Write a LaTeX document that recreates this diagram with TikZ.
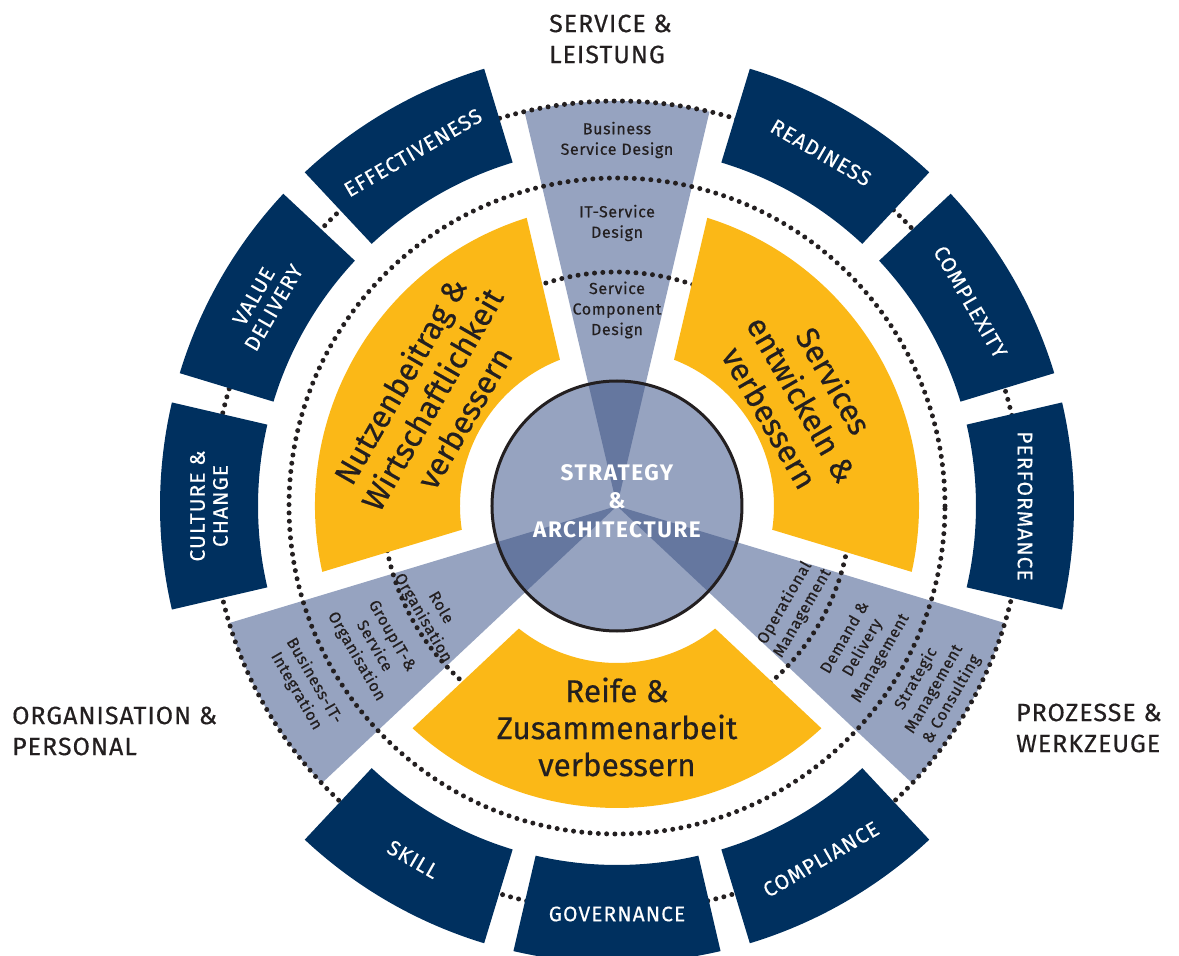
\documentclass[tikz,border=0pt]{standalone}
\usepackage{fontspec}
\setmainfont{Fira Sans}
\newfontfamily\blockfont[LetterSpace=5,FakeBold=0.3]{Fira Sans}
\newfontfamily\medfont[FakeBold=0.5]{Fira Sans}
\newfontfamily\medspaced[FakeBold=0.5,LetterSpace=4]{Fira Sans}
\newfontfamily\corefont[LetterSpace=7]{Fira Sans Bold}
\definecolor{navy}{HTML}{00305F}
\definecolor{gold}{HTML}{FBB817}
\definecolor{wedgegray}{HTML}{96A3C0}
\definecolor{wedgedark}{HTML}{65779F}
\definecolor{ink}{HTML}{231F20}
\begin{document}
\begin{tikzpicture}[
  blocktext/.style={text=white, font=\blockfont\fontsize{21}{23}\selectfont, align=center, inner sep=0pt},
  yellowtext/.style={text=ink, font=\medfont\fontsize{31.5}{37}\selectfont, align=center, inner sep=0pt},
  wedgetext/.style={text=ink, font=\medspaced\fontsize{16}{20.5}\selectfont, align=center, inner sep=0pt},
  outertext/.style={text=ink, font=\medspaced\fontsize{25}{31}\selectfont, align=left, inner sep=0pt, anchor=west},
  centertext/.style={text=white, font=\corefont\fontsize{22.5}{28.5}\selectfont, align=center, inner sep=0pt},
  dotline/.style={draw=ink, line width=5pt, dash pattern=on 0pt off 8.3pt, line cap=round},
]
\useasboundingbox (-617pt,-450pt) rectangle (562pt,506pt);

% gray wedges
\foreach \w in {90,210,330}{
  \fill[wedgegray] (0,0) -- ({\w-13.2}:405pt) arc[start angle={\w-13.2}, end angle={\w+13.2}, radius=405pt] -- cycle;
}

% dotted circles
\draw[dotline] (0,0) circle[radius=405pt];
\draw[dotline] (0,0) circle[radius=328pt];
\draw[dotline] (0,0) circle[radius=234pt];

% yellow sectors
\foreach \c in {30,150,270}{
  \fill[gold] ({\c-42.6}:302pt) arc[start angle={\c-42.6}, end angle={\c+42.6}, radius=302pt]
    -- ({\c+38.7}:157pt) arc[start angle={\c+38.7}, end angle={\c-38.7}, radius=157pt] -- cycle;
}

% navy blocks
\foreach \c in {0,30,60,120,150,180,240,270,300}{
  \fill[navy] ({\c-13.1}:359pt) arc[start angle={\c-13.1}, end angle={\c+13.1}, radius=359pt]
    -- ({\c+13.1}:457pt) arc[start angle={\c+13.1}, end angle={\c-13.1}, radius=457pt] -- cycle;
}

% block labels
\node[blocktext, rotate=-90] (perf) at (0:408pt) {PERFORMANCE};
\node[blocktext, rotate=-60] (cplx) at (30:408pt) {COMPLEXITY};
\node[blocktext, rotate=-30] (ready) at (60:408pt) {READINESS};
\node[blocktext, rotate=30] (eff) at (120:408pt) {EFFECTIVENESS};
\node[blocktext, rotate=60] (val) at (150:408pt) {VALUE\\DELIVERY};
\node[blocktext, rotate=90] (cult) at (180:408pt) {CULTURE \&\\CHANGE};
\node[blocktext, rotate=-30] (skill) at (240:408pt) {SKILL};
\node[blocktext] (gov) at (270:408pt) {GOVERNANCE};
\node[blocktext, rotate=30] (comp) at (300:408pt) {COMPLIANCE};

% center circle
\fill[wedgegray] (0,0) circle[radius=125pt];
\begin{scope}
  \clip (0,0) circle[radius=125pt];
  \foreach \w in {90,210,330}{
    \fill[wedgedark] (0,0) -- ({\w-13.2}:200pt) arc[start angle={\w-13.2}, end angle={\w+13.2}, radius=200pt] -- cycle;
  }
\end{scope}
\draw[ink, line width=3pt] (0,0) circle[radius=125pt];
\node[centertext] (core) at (0,5pt) {STRATEGY\\\&\\ARCHITECTURE};

% yellow labels
\node[yellowtext, rotate=60] (nutz) at (150:214pt) {Nutzenbeitrag \&\\Wirtschaftlichkeit\\verbessern};
\node[yellowtext, rotate=-60] (serv) at (30:214pt) {Services\\entwickeln \&\\verbessern};
\node[yellowtext] (reife) at (270:221pt) {Reife \&\\Zusammenarbeit\\verbessern};

% wedge labels
\node[wedgetext] (bsd) at (90:366pt) {Business\\Service Design};
\node[wedgetext] (itsd) at (90:283pt) {IT-Service\\Design};
\node[wedgetext] (scd) at (90:196pt) {Service\\Component\\Design};
\node[wedgetext, rotate=-60] (role) at (210:214pt) {Role\\Organisation};
\node[wedgetext, rotate=-60] (group) at (210:281pt) {GroupIT-\&\\Service\\Organisation};
\node[wedgetext, rotate=-60] (bii) at (210:360pt) {Business-IT-\\Integration};
\node[wedgetext, rotate=60] (opm) at (330:204pt) {Operational\\Management};
\node[wedgetext, rotate=60] (ddm) at (330:284pt) {Demand \&\\Delivery\\Management};
\node[wedgetext, rotate=60] (smc) at (330:366pt) {Strategic\\Management\\\& Consulting};

% outer labels
\node[outertext] (svcl) at (-68pt,467pt) {SERVICE \&\\LEISTUNG};
\node[outertext] (orgp) at (-605pt,-225pt) {ORGANISATION \&\\PERSONAL};
\node[outertext] (prow) at (399pt,-222pt) {PROZESSE \&\\WERKZEUGE};
\end{tikzpicture}
\end{document}
